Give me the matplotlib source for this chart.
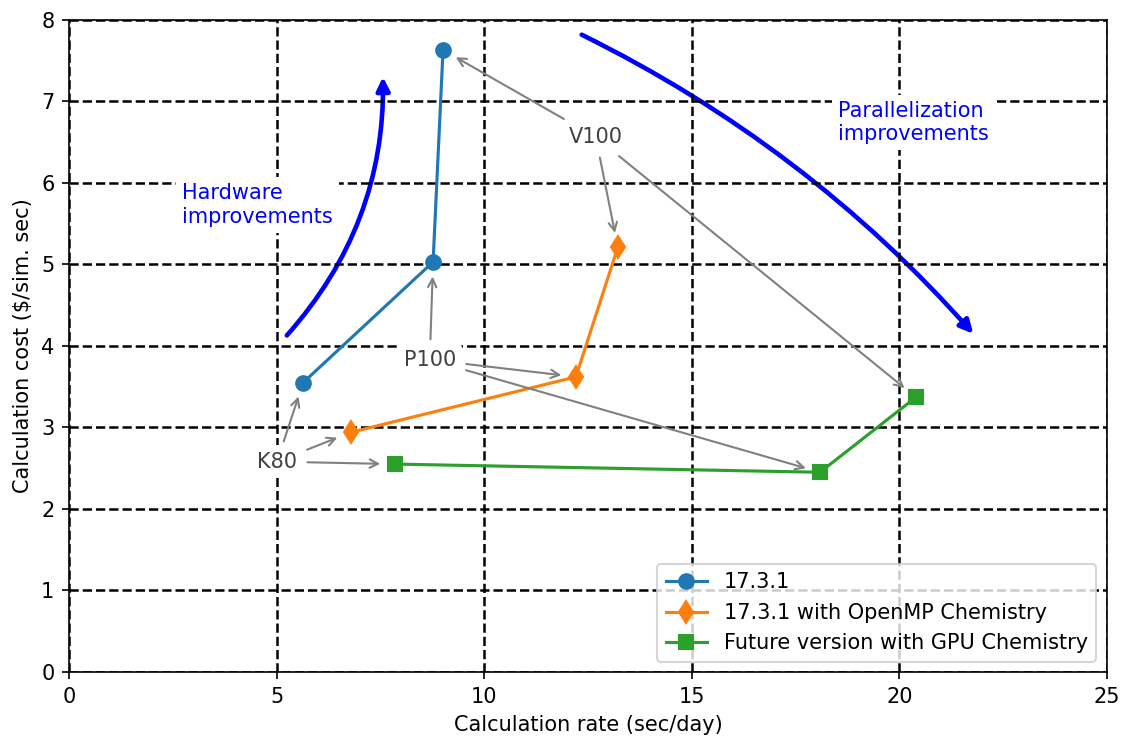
import matplotlib
matplotlib.use('Agg')
import matplotlib.pyplot as plt
from matplotlib.patches import FancyArrowPatch

# data
rate_1731 = [5.64, 8.77, 9.01]
cost_1731 = [3.55, 5.03, 7.63]
rate_omp = [6.79, 12.21, 13.22]
cost_omp = [2.94, 3.62, 5.21]
rate_gpu = [7.85, 18.09, 20.40]
cost_gpu = [2.55, 2.45, 3.37]
series_labels = ['17.3.1', '17.3.1 with OpenMP Chemistry', 'Future version with GPU Chemistry']
gpu_names = ['K80', 'P100', 'V100']
name_pos = [(5.01, 2.58), (8.69, 3.83), (12.69, 6.56)]

fig = plt.figure(figsize=(7.48, 4.907), dpi=150)
ax = fig.add_axes([0.0615, 0.087, 0.925, 0.886])

ax.plot(rate_1731, cost_1731, 'o-', color='C0', ms=7, label=series_labels[0])
ax.plot(rate_omp, cost_omp, 'd-', color='C1', ms=7.5, label=series_labels[1])
ax.plot(rate_gpu, cost_gpu, 's-', color='C2', ms=7, label=series_labels[2])

ax.set_xlim(0, 25)
ax.set_ylim(0, 8)
ax.set_xticks(range(0, 26, 5))
ax.set_yticks(range(0, 9))
ax.grid(True, color='k', linestyle='--', linewidth=1.2)
ax.set_xlabel('Calculation rate (sec/day)')
ax.set_ylabel('Calculation cost (\\$/sim. sec)')

# label each gpu generation, arrows to each series point
for i, name in enumerate(gpu_names):
    for xs, ys in [(rate_1731, cost_1731), (rate_omp, cost_omp), (rate_gpu, cost_gpu)]:
        ax.annotate(name, xy=(xs[i], ys[i]), xytext=name_pos[i],
                    ha='center', va='center', color='0.25', fontsize=10,
                    bbox=dict(boxstyle='round,pad=0.3', fc='white', ec='none'),
                    arrowprops=dict(arrowstyle='->', color='gray', lw=1.0,
                                    shrinkA=2, shrinkB=7))

ax.text(2.72, 5.73, 'Hardware\nimprovements', color='blue', ha='left', va='center',
        fontsize=10, bbox=dict(boxstyle='square,pad=0.3', fc='white', ec='none'))
ax.text(18.52, 6.74, 'Parallelization\nimprovements', color='blue', ha='left', va='center',
        fontsize=10, bbox=dict(boxstyle='square,pad=0.3', fc='white', ec='none'))

ax.add_patch(FancyArrowPatch((5.18, 4.09), (7.56, 7.35), connectionstyle='arc3,rad=0.2',
                             arrowstyle='-|>', mutation_scale=13, color='blue', lw=2.2))
ax.add_patch(FancyArrowPatch((12.26, 7.84), (21.85, 4.11), connectionstyle='arc3,rad=-0.1',
                             arrowstyle='-|>', mutation_scale=13, color='blue', lw=2.2))

ax.legend(loc='lower right')

fig.savefig('out.png', dpi=150)
